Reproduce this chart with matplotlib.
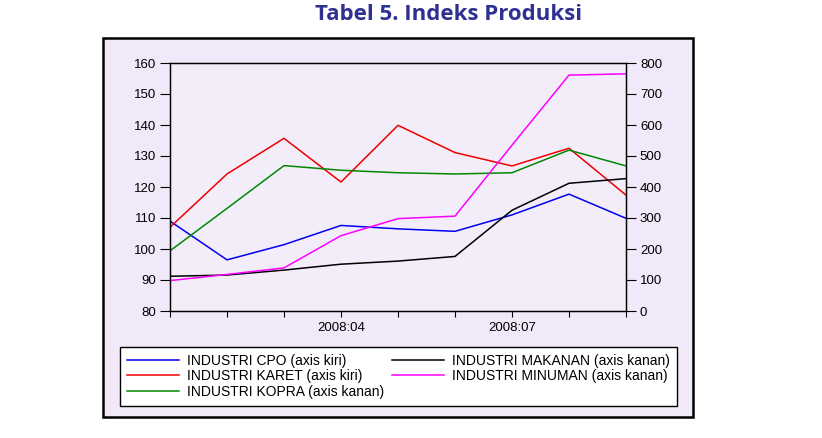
import matplotlib as mpl
mpl.use('agg')
import matplotlib.pyplot as plt
from matplotlib.patches import Rectangle

# months 2008:01 .. 2008:09
months = ['2008:01', '2008:02', '2008:03', '2008:04', '2008:05',
          '2008:06', '2008:07', '2008:08', '2008:09']
tick_labels = ['', '', '', '2008:04', '', '', '2008:07', '', '']

# left axis series
cpo = [109.0, 96.5, 101.4, 107.6, 106.5, 105.7, 111.0, 117.7, 109.9]
karet = [107.0, 124.2, 135.7, 121.6, 139.9, 131.1, 126.8, 132.5, 117.4]

# right axis series
kopra = [194, 331, 469, 454, 446, 442, 446, 519, 468]
makanan = [112, 116, 132, 151, 161, 176, 325, 412, 427]
minuman = [98, 118, 139, 243, 298, 306, 535, 761, 765]

plt.rcParams['font.family'] = ['Liberation Sans', 'DejaVu Sans']

fig = plt.figure(figsize=(8.22, 4.38), dpi=100)

# outer lavender box
box = Rectangle((103 / 822, 1 - 417 / 438), 590 / 822, 379 / 438,
                transform=fig.transFigure, facecolor='#f1e9f9',
                edgecolor='black', linewidth=1.8, zorder=-1)
fig.patches.append(box)

fig.text(449 / 822, 1 - 15 / 438, 'Tabel 5. Indeks Produksi', ha='center', va='center',
         fontsize=16, fontweight='bold', color='#2e3192', family='Open Sans')

ax = fig.add_axes([170 / 822, 1 - 311 / 438, 456 / 822, 248 / 438])
ax.set_facecolor('#f3edfa')
x = list(range(1, len(months) + 1))

l1, = ax.plot(x, cpo, color='#0000ee', lw=1.1)
l2, = ax.plot(x, karet, color='#ee0000', lw=1.1)
ax.set_ylim(80, 160)
ax.set_yticks(range(80, 161, 10))
ax.set_xlim(1, 9)
ax.set_xticks(x)
ax.set_xticklabels(tick_labels)

ax2 = ax.twinx()
l3, = ax2.plot(x, kopra, color='#008800', lw=1.1)
l4, = ax2.plot(x, makanan, color='black', lw=1.1)
l5, = ax2.plot(x, minuman, color='#ff00ff', lw=1.1)
ax2.set_ylim(0, 800)
ax2.set_yticks(range(0, 801, 100))

for a in (ax, ax2):
    a.tick_params(axis='y', labelsize=9.5, length=7, width=0.8, pad=3)
    for s in a.spines.values():
        s.set_linewidth(0.9)
ax.tick_params(axis='x', labelsize=9.5, length=4, width=0.8, pad=4)

fig.legend([l1, l2, l3, l4, l5],
           ['INDUSTRI CPO (axis kiri)', 'INDUSTRI KARET (axis kiri)',
            'INDUSTRI KOPRA (axis kanan)', 'INDUSTRI MAKANAN (axis kanan)',
            'INDUSTRI MINUMAN (axis kanan)'],
           ncol=2, loc='upper left',
           bbox_to_anchor=(120 / 822, 1 - 347 / 438),
           fontsize=10, frameon=True, fancybox=False, edgecolor='black',
           facecolor='white', framealpha=1, handlelength=3.75,
           borderpad=0.5, labelspacing=0.1, columnspacing=0.6,
           handletextpad=0.55, borderaxespad=0)

plt.savefig('out.png', dpi=100)
